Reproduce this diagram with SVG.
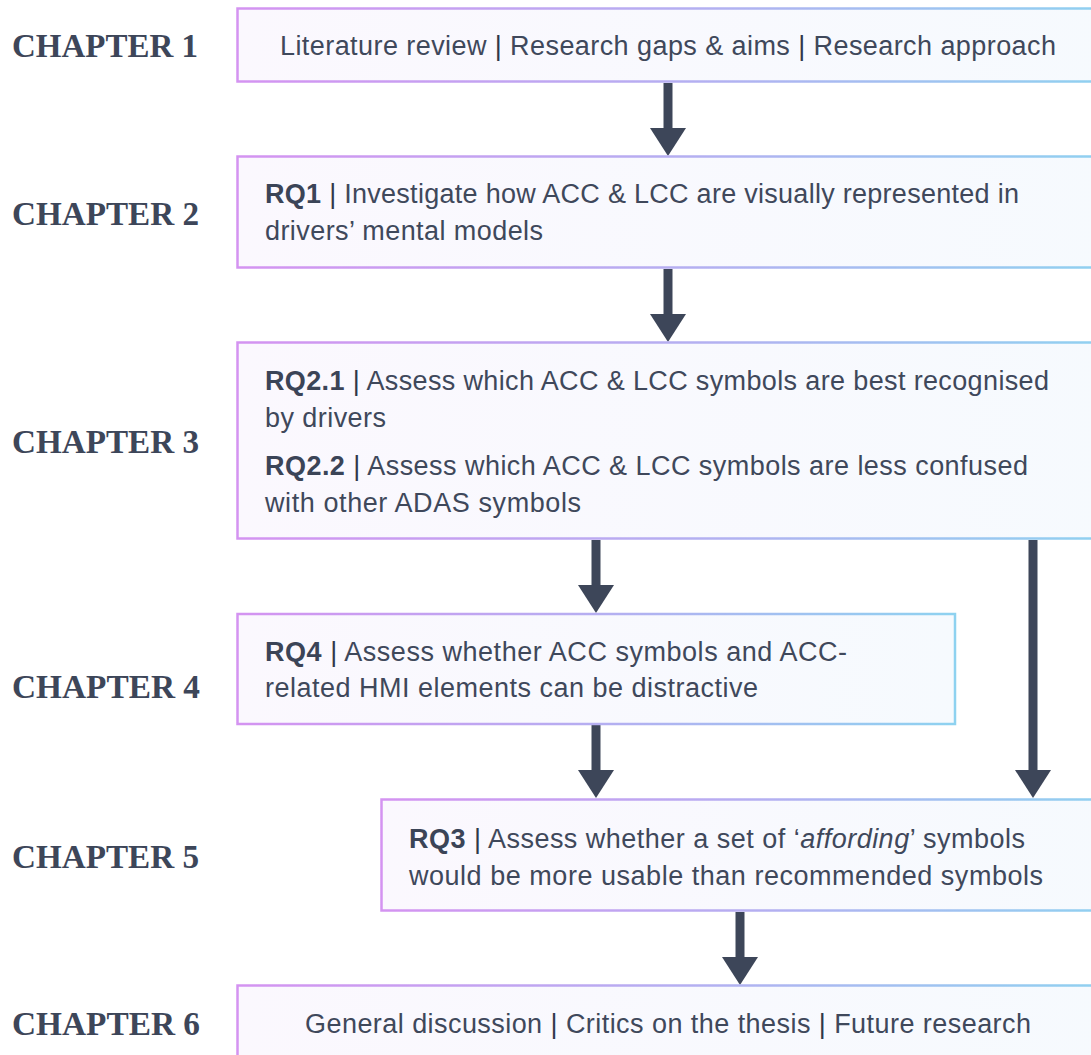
<svg xmlns="http://www.w3.org/2000/svg" width="1091" height="1055" viewBox="0 0 1091 1055">
<defs>
<linearGradient id="gs" x1="0" y1="0" x2="1" y2="0">
<stop offset="0" stop-color="#d493f1"/>
<stop offset="0.55" stop-color="#b2b1f1"/>
<stop offset="1" stop-color="#8ed2f0"/>
</linearGradient>
<linearGradient id="gf" x1="0" y1="0" x2="1" y2="0">
<stop offset="0" stop-color="#fbf8fe"/>
<stop offset="1" stop-color="#f6fafe"/>
</linearGradient>
<marker id="ah" viewBox="0 0 28 36" refX="4" refY="18" markerUnits="userSpaceOnUse" markerWidth="28" markerHeight="36" orient="auto">
<path d="M0,0 L28,18 L0,36 Z" fill="#3d4659"/>
</marker>
<style>
.box{fill:url(#gf);stroke:url(#gs);stroke-width:2.5}
.ch{font-family:"Liberation Serif","Times New Roman",serif;font-weight:bold;font-size:33px;fill:#3d4659}
.t{font-family:"Liberation Sans",Arial,sans-serif;font-size:27px;fill:#3f485b}
.b{font-weight:bold;fill:#3b4457}
.bar{fill:#2f3749}
.arr{stroke:#3d4659;stroke-width:9;fill:none;marker-end:url(#ah)}
</style>
</defs>
<rect width="1091" height="1055" fill="#ffffff"/>

<g id="labels">
<text class="ch" x="12" y="57" textLength="186" lengthAdjust="spacingAndGlyphs">CHAPTER 1</text>
<text class="ch" x="12" y="225" textLength="187" lengthAdjust="spacingAndGlyphs">CHAPTER 2</text>
<text class="ch" x="12" y="453" textLength="187" lengthAdjust="spacingAndGlyphs">CHAPTER 3</text>
<text class="ch" x="12" y="698" textLength="188" lengthAdjust="spacingAndGlyphs">CHAPTER 4</text>
<text class="ch" x="12" y="868" textLength="187" lengthAdjust="spacingAndGlyphs">CHAPTER 5</text>
<text class="ch" x="12" y="1035" textLength="188" lengthAdjust="spacingAndGlyphs">CHAPTER 6</text>
</g>

<g id="connectors">
<line class="arr" x1="668" y1="83" x2="668" y2="132"/>
<line class="arr" x1="668" y1="269" x2="668" y2="318"/>
<line class="arr" x1="596" y1="540" x2="596" y2="589"/>
<line class="arr" x1="1033" y1="540" x2="1033" y2="774"/>
<line class="arr" x1="596" y1="725" x2="596" y2="774"/>
<line class="arr" x1="740" y1="912" x2="740" y2="961"/>
</g>

<g id="node1">
<rect class="box" x="237.5" y="8.5" width="880" height="73"/>
<text class="t" x="668" y="55" text-anchor="middle" textLength="776" lengthAdjust="spacing">Literature review <tspan class="bar">|</tspan> Research gaps &amp; aims <tspan class="bar">|</tspan> Research approach</text>
</g>

<g id="node2">
<rect class="box" x="237.5" y="156.5" width="880" height="111"/>
<text class="t" x="265" y="203" textLength="754" lengthAdjust="spacing"><tspan class="b">RQ1</tspan> <tspan class="bar">|</tspan> Investigate how ACC &amp; LCC are visually represented in</text>
<text class="t" x="265" y="240" textLength="278" lengthAdjust="spacing">drivers’ mental models</text>
</g>

<g id="node3">
<rect class="box" x="237.5" y="342.5" width="880" height="196"/>
<text class="t" x="265" y="390" textLength="784" lengthAdjust="spacing"><tspan class="b">RQ2.1</tspan> <tspan class="bar">|</tspan> Assess which ACC &amp; LCC symbols are best recognised</text>
<text class="t" x="265" y="427" textLength="121" lengthAdjust="spacing">by drivers</text>
<text class="t" x="265" y="475" textLength="763" lengthAdjust="spacing"><tspan class="b">RQ2.2</tspan> <tspan class="bar">|</tspan> Assess which ACC &amp; LCC symbols are less confused</text>
<text class="t" x="265" y="512" textLength="316" lengthAdjust="spacing">with other ADAS symbols</text>
</g>

<g id="node4">
<rect class="box" x="237.5" y="614" width="717.5" height="110"/>
<text class="t" x="265" y="661" textLength="582" lengthAdjust="spacing"><tspan class="b">RQ4</tspan> <tspan class="bar">|</tspan> Assess whether ACC symbols and ACC-</text>
<text class="t" x="265" y="697" textLength="493" lengthAdjust="spacing">related HMI elements can be distractive</text>
</g>

<g id="node5">
<rect class="box" x="381.5" y="799.5" width="740" height="111"/>
<text class="t" x="409" y="848" textLength="616" lengthAdjust="spacing"><tspan class="b">RQ3</tspan> <tspan class="bar">|</tspan> Assess whether a set of ‘<tspan font-style="italic">affording</tspan>’ symbols</text>
<text class="t" x="409" y="885" textLength="634" lengthAdjust="spacing">would be more usable than recommended symbols</text>
</g>

<g id="node6">
<rect class="box" x="237.5" y="985.5" width="880" height="100"/>
<text class="t" x="668" y="1033" text-anchor="middle" textLength="726" lengthAdjust="spacing">General discussion <tspan class="bar">|</tspan> Critics on the thesis <tspan class="bar">|</tspan> Future research</text>
</g>
</svg>
